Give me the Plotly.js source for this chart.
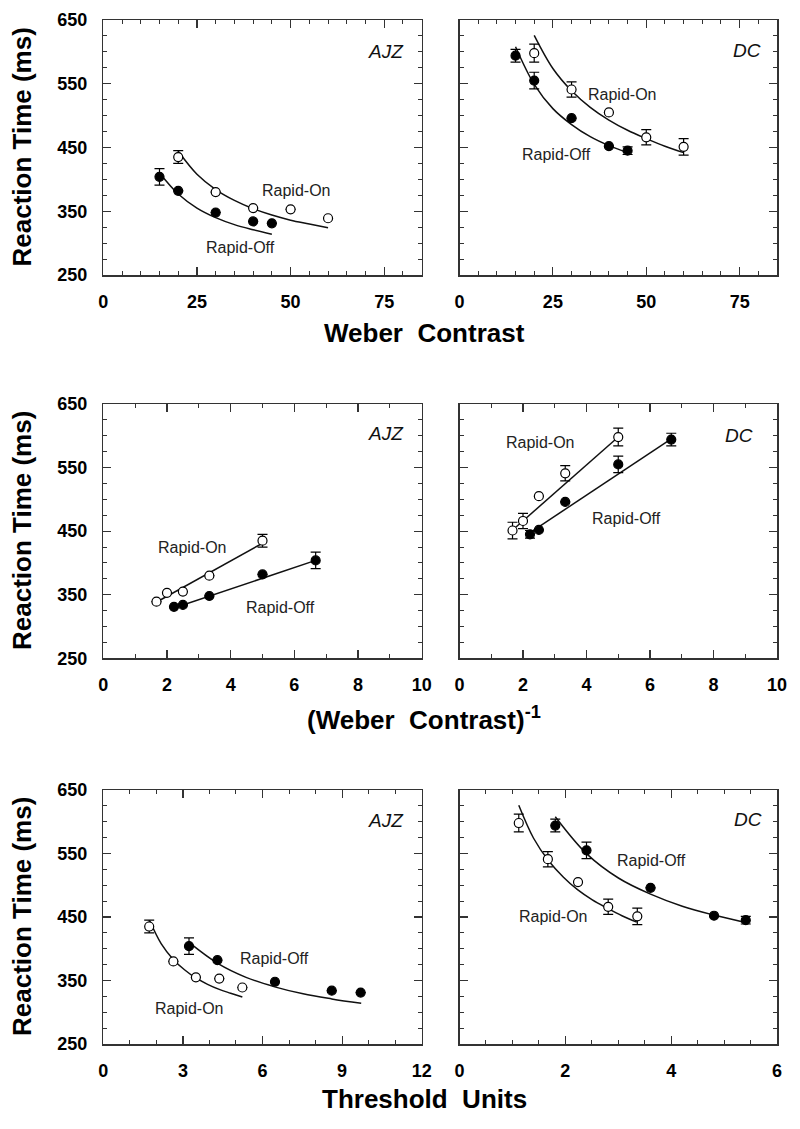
<!DOCTYPE html>
<html>
<head>
<meta charset="utf-8">
<script src="https://cdn.plot.ly/plotly-3.0.1.min.js"></script>
<style>html,body{margin:0;padding:0;background:#fff}#chart{width:800px;height:1129px}</style>
</head>
<body>
<div id="chart"></div>
<script>
// ---------- data ----------
// Weber contrast (%)
const onContrast  = [20, 30, 40, 50, 60];
const offContrast = [15, 20, 30, 40, 45];
// (Weber contrast)^-1
const onInverse  = [5.0, 3.33, 2.5, 2.0, 1.67];
const offInverse = [6.67, 5.0, 3.33, 2.5, 2.22];
// Reaction times (ms)
const ajzOnRT  = [435, 380, 355, 353, 339];
const ajzOffRT = [404, 382, 348, 334, 331];
const dcOnRT   = [598, 541, 505, 466, 451];
const dcOffRT  = [594, 555, 496, 452, 445];
// error bars (ms), null = none drawn
const ajzOnErr  = [10, null, null, null, null];
const ajzOffErr = [13, null, null, null, null];
const dcOnErr   = [14, 12, null, 12, 13];
const dcOffErr  = [10, 13, null, null, 6];
// threshold units
const ajzOnThr  = [1.73, 2.64, 3.49, 4.37, 5.24];
const ajzOffThr = [3.23, 4.30, 6.47, 8.61, 9.70];
const dcOnThr   = [1.12, 1.67, 2.24, 2.81, 3.36];
const dcOffThr  = [1.81, 2.40, 3.61, 4.81, 5.41];

// fitted curves
const ajzOnFitC   = [20, 25, 30, 35, 40, 45, 50, 55, 60];
const ajzOnFitRT  = [444, 408, 384, 367, 354, 344, 336, 330, 324];
const ajzOffFitC  = [15, 20, 25, 30, 35, 40, 45];
const ajzOffFitRT = [410, 377, 355, 340, 329, 321, 314];
const dcOnFitC    = [20, 25, 30, 35, 40, 45, 50, 55, 60];
const dcOnFitRT   = [626, 574, 539, 513, 493, 477, 464, 452, 442];
const dcOffFitC   = [15, 20, 25, 30, 35, 40, 45.5];
const dcOffFitRT  = [608, 549, 511, 486, 467, 453, 441];
const ajzOnFitThr  = [1.75, 2.18, 2.62, 3.06, 3.49, 3.93, 4.37, 4.80, 5.24];
const ajzOffFitThr = [3.23, 4.31, 5.38, 6.46, 7.53, 8.61, 9.72];
const dcOnFitThr   = [1.12, 1.40, 1.68, 1.96, 2.23, 2.51, 2.79, 3.07, 3.35];
const dcOffFitThr  = [1.81, 2.41, 3.01, 3.61, 4.21, 4.81, 5.42];
// straight-line fits in inverse-contrast panels
const ajzOnLineInv  = [1.55, 5.0];
const ajzOnLineRT   = [335, 431];
const ajzOffLineInv = [2.15, 6.67];
const ajzOffLineRT  = [328, 404];
const dcOnLineInv   = [1.7, 5.0];
const dcOnLineRT    = [453, 598];
const dcOffLineInv  = [2.2, 6.67];
const dcOffLineRT   = [447, 595];

// tick settings
const yTickVals = [250, 350, 450, 550, 650];

// ---------- build ----------
const traces = [];
function fit(x, y, ax, shape) {
  traces.push({x: x, y: y, xaxis: 'x' + ax, yaxis: 'y' + ax, mode: 'lines',
    line: {color: '#111', width: 1.5, shape: shape || 'spline', smoothing: 1},
    hoverinfo: 'skip'});
}
function pts(x, y, err, ax, open) {
  traces.push({x: x, y: y, xaxis: 'x' + ax, yaxis: 'y' + ax, mode: 'markers',
    marker: {size: 9, color: open ? '#fff' : '#000', line: {color: '#000', width: 1.2}},
    error_y: {type: 'data', array: err, visible: true, color: '#000', thickness: 1.2, width: 5}});
}
// panel 1 AJZ contrast
fit(ajzOnFitC, ajzOnFitRT, '');  fit(ajzOffFitC, ajzOffFitRT, '');
pts(onContrast, ajzOnRT, ajzOnErr, '', true); pts(offContrast, ajzOffRT, ajzOffErr, '', false);
// panel 2 DC contrast
fit(dcOnFitC, dcOnFitRT, '2'); fit(dcOffFitC, dcOffFitRT, '2');
pts(onContrast, dcOnRT, dcOnErr, '2', true); pts(offContrast, dcOffRT, dcOffErr, '2', false);
// panel 3 AJZ inverse
fit(ajzOnLineInv, ajzOnLineRT, '3', 'linear'); fit(ajzOffLineInv, ajzOffLineRT, '3', 'linear');
pts(onInverse, ajzOnRT, ajzOnErr, '3', true); pts(offInverse, ajzOffRT, ajzOffErr, '3', false);
// panel 4 DC inverse
fit(dcOnLineInv, dcOnLineRT, '4', 'linear'); fit(dcOffLineInv, dcOffLineRT, '4', 'linear');
pts(onInverse, dcOnRT, dcOnErr, '4', true); pts(offInverse, dcOffRT, dcOffErr, '4', false);
// panel 5 AJZ threshold units
fit(ajzOnFitThr, ajzOnFitRT, '5'); fit(ajzOffFitThr, ajzOffFitRT, '5');
pts(ajzOnThr, ajzOnRT, ajzOnErr, '5', true); pts(ajzOffThr, ajzOffRT, ajzOffErr, '5', false);
// panel 6 DC threshold units
fit(dcOnFitThr, dcOnFitRT, '6'); fit(dcOffFitThr, dcOffFitRT, '6');
pts(dcOnThr, dcOnRT, dcOnErr, '6', true); pts(dcOffThr, dcOffRT, dcOffErr, '6', false);

const W = 800, H = 1129;
const colL = [103.3 / W, 421.7 / W], colR = [459.5 / W, 777 / W];
const rows = [[1 - 275 / H, 1 - 20 / H], [1 - 658.3 / H, 1 - 404 / H], [1 - 1044 / H, 1 - 790 / H]];
const tickFont = {family: 'Liberation Sans, Arial, sans-serif', size: 18, weight: 'bold', color: '#000'};

function xAx(dom, range, dtick, minor, anchor) {
  return {domain: dom, range: range, anchor: anchor, dtick: dtick, tick0: 0,
    showline: true, linecolor: '#333', linewidth: 1.5, mirror: 'ticks',
    ticks: 'inside', ticklen: 8, tickwidth: 1.2, tickcolor: '#333',
    minor: {dtick: minor, ticks: 'inside', ticklen: 4, tickwidth: 1, tickcolor: '#333'},
    showgrid: false, zeroline: false, tickfont: tickFont, ticklabelstandoff: 10, fixedrange: true};
}
function yAx(dom, anchor, labels) {
  return {domain: dom, range: [250, 650], anchor: anchor, tickvals: yTickVals,
    showline: true, linecolor: '#333', linewidth: 1.5, mirror: 'ticks',
    ticks: 'inside', ticklen: 8, tickwidth: 1.2, tickcolor: '#333',
    minor: {dtick: 25, ticks: 'inside', ticklen: 4, tickwidth: 1, tickcolor: '#333'},
    showgrid: false, zeroline: false, showticklabels: labels, tickfont: tickFont,
    ticklabelstandoff: 11, fixedrange: true};
}

const lblFont = {family: 'Liberation Sans, Arial, sans-serif', size: 16, color: '#222'};
const subjFont = {family: 'Liberation Sans, Arial, sans-serif', size: 19, style: 'italic', color: '#111'};
const titleFont = {family: 'Liberation Sans, Arial, sans-serif', size: 26, weight: 'bold', color: '#000'};
function lab(ax, text, x, y) {
  return {xref: 'x' + ax + ' domain', yref: 'y' + ax + ' domain', x: x, y: y, text: text,
    showarrow: false, font: lblFont, xanchor: 'center', yanchor: 'middle'};
}
function subj(ax, text, x, y) {
  return {xref: 'x' + ax + ' domain', yref: 'y' + ax + ' domain', x: x, y: y, text: text,
    showarrow: false, font: subjFont, xanchor: 'right', yanchor: 'middle'};
}
function ytitle(y) {
  return {xref: 'paper', yref: 'paper', x: 22 / W, y: y, text: 'Reaction Time (ms)', textangle: -90,
    showarrow: false, font: titleFont, xanchor: 'center', yanchor: 'middle'};
}
function xtitle(y, text) {
  return {xref: 'paper', yref: 'paper', x: 424 / W, y: y, text: text,
    showarrow: false, font: titleFont, xanchor: 'center', yanchor: 'middle'};
}

const layout = {
  width: W, height: H, margin: {l: 0, r: 0, t: 0, b: 0},
  paper_bgcolor: '#fff', plot_bgcolor: '#fff', showlegend: false,
  xaxis:  xAx(colL, [0, 85], 25, 5, 'y'),
  yaxis:  yAx(rows[0], 'x', true),
  xaxis2: xAx(colR, [0, 85], 25, 5, 'y2'),
  yaxis2: yAx(rows[0], 'x2', false),
  xaxis3: xAx(colL, [0, 10], 2, 1, 'y3'),
  yaxis3: yAx(rows[1], 'x3', true),
  xaxis4: xAx(colR, [0, 10], 2, 1, 'y4'),
  yaxis4: yAx(rows[1], 'x4', false),
  xaxis5: xAx(colL, [0, 12], 3, 1, 'y5'),
  yaxis5: yAx(rows[2], 'x5', true),
  xaxis6: xAx(colR, [0, 6], 2, 0.5, 'y6'),
  yaxis6: yAx(rows[2], 'x6', false),
  annotations: [
    subj('', 'AJZ', 0.951, 0.876), lab('', 'Rapid-On', 0.604, 0.333), lab('', 'Rapid-Off', 0.4315, 0.109),
    subj('2', 'DC', 0.957, 0.882), lab('2', 'Rapid-On', 0.512, 0.706), lab('2', 'Rapid-Off', 0.307, 0.473),
    subj('3', 'AJZ', 0.951, 0.885), lab('3', 'Rapid-On', 0.278, 0.4365), lab('3', 'Rapid-Off', 0.557, 0.2005),
    subj('4', 'DC', 0.932, 0.878), lab('4', 'Rapid-On', 0.254, 0.848), lab('4', 'Rapid-Off', 0.527, 0.5505),
    subj('5', 'AJZ', 0.951, 0.879), lab('5', 'Rapid-Off', 0.539, 0.337), lab('5', 'Rapid-On', 0.270, 0.141),
    subj('6', 'DC', 0.958, 0.885), lab('6', 'Rapid-Off', 0.606, 0.722), lab('6', 'Rapid-On', 0.293, 0.501),
    ytitle(1 - 147.5 / H), ytitle(1 - 531 / H), ytitle(1 - 917 / H),
    xtitle(1 - 333 / H, 'Weber  Contrast'),
    xtitle(1 - 718 / H, '(Weber  Contrast)<sup>-1</sup>'),
    xtitle(1 - 1099 / H, 'Threshold  Units')
  ]
};

Plotly.newPlot('chart', traces, layout, {staticPlot: true, displayModeBar: false});
</script>
</body>
</html>
